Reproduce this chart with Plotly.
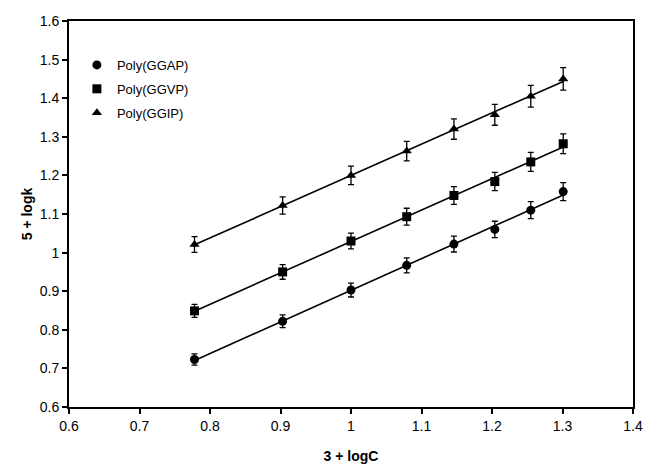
import numpy as np
import plotly.graph_objects as go

# 3 + log C for C = 6 ... 20
x_logc = [0.778, 0.903, 1.000, 1.079, 1.146, 1.204, 1.255, 1.301]

ggap = [0.723, 0.822, 0.903, 0.967, 1.022, 1.060, 1.110, 1.158]
ggvp = [0.849, 0.950, 1.030, 1.093, 1.148, 1.184, 1.235, 1.282]
ggip = [1.021, 1.122, 1.200, 1.263, 1.320, 1.357, 1.405, 1.450]

series_names = ["Poly(GGAP)", "Poly(GGVP)", "Poly(GGIP)"]
series_values = [ggap, ggvp, ggip]
series_symbols = ["circle", "square", "triangle-up"]
series_sizes = [9, 9, 9]
error_percent = 2

x_ticks = [0.6, 0.7, 0.8, 0.9, 1.0, 1.1, 1.2, 1.3, 1.4]
y_ticks = [0.6, 0.7, 0.8, 0.9, 1.0, 1.1, 1.2, 1.3, 1.4, 1.5, 1.6]

fig = go.Figure()

# linear trend lines fitted to each series
xs = np.array(x_logc)
for vals in series_values:
    slope, intercept = np.polyfit(xs, np.array(vals), 1)
    xl = np.array([xs.min(), xs.max()])
    fig.add_trace(go.Scatter(
        x=xl, y=slope * xl + intercept, mode="lines",
        line=dict(color="black", width=1.6),
        showlegend=False, hoverinfo="skip",
    ))

# data points with error bars
for i, (name, vals, sym, sz) in enumerate(zip(series_names, series_values, series_symbols, series_sizes)):
    fig.add_trace(go.Scatter(
        x=x_logc, y=vals, mode="markers", name=name,
        legendgroup=f"g{i}",
        marker=dict(symbol=sym, size=sz, color="black"),
        error_y=dict(type="percent", value=error_percent, color="black",
                     thickness=1.3, width=3),
    ))

family = "Liberation Sans, Arial, sans-serif"
tick_font = dict(family=family, size=14, color="black")
title_font = dict(family=family, size=14, color="black")

fig.update_layout(
    width=646, height=464,
    margin=dict(l=69, r=13, t=21, b=57),
    paper_bgcolor="white", plot_bgcolor="white",
    font=dict(family=family, size=13, color="black"),
    showlegend=True,
    legend=dict(
        x=0.014, y=0.925, xanchor="left", yanchor="top",
        xref="paper", yref="paper",
        bgcolor="rgba(0,0,0,0)",
        font=dict(family=family, size=13, color="black"),
        traceorder="grouped", tracegroupgap=4,
    ),
    xaxis=dict(
        range=[0.6, 1.4], tickvals=x_ticks, ticks="outside", ticklen=5,
        tickwidth=1.5, tickcolor="black", automargin=False,
        showline=True, linecolor="black", linewidth=2, mirror=True,
        showgrid=False, zeroline=False, tickfont=tick_font,
        title=dict(text="<b>3 + logC</b>", font=title_font, standoff=18),
    ),
    yaxis=dict(
        range=[0.6, 1.6], tickvals=y_ticks, ticks="outside", ticklen=5,
        tickwidth=1.5, tickcolor="black", automargin=False,
        showline=True, linecolor="black", linewidth=2, mirror=True,
        showgrid=False, zeroline=False, tickfont=tick_font,
        title=dict(text="<b>5 + logk</b>", font=title_font, standoff=4),
    ),
)

fig.write_html("out.html")
